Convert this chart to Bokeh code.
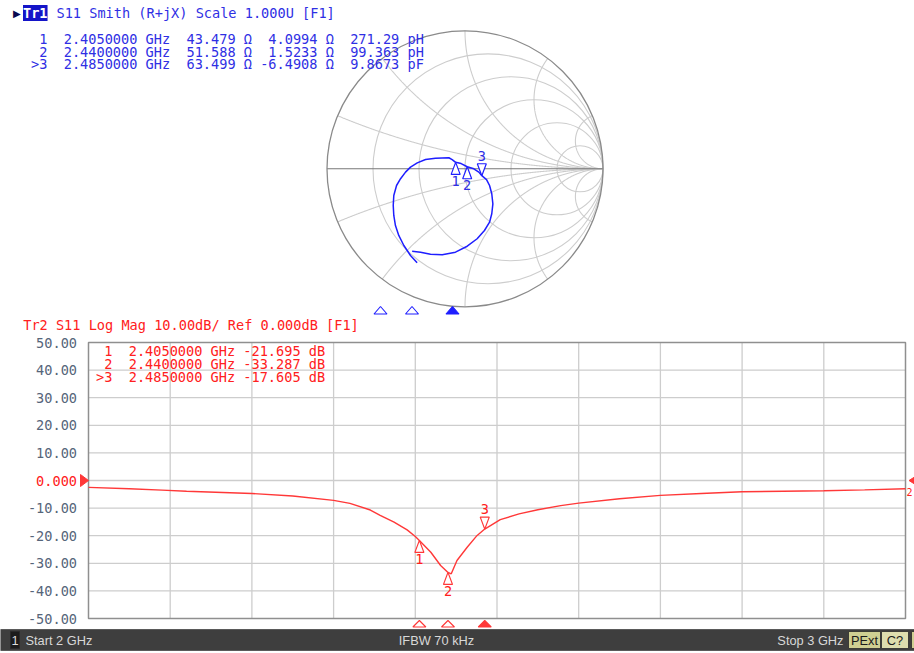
import numpy as np
from bokeh.plotting import figure
from bokeh.models import Range1d, Label
from bokeh.layouts import column
from bokeh.embed import file_html
from bokeh.resources import INLINE
from bokeh.core.properties import value

# ---------------- data ----------------
start_ghz = 2.0
stop_ghz = 3.0
z0_ohm = 50.0

marker_tags = [" 1", " 2", ">3"]
marker_names = ["1", "2", "3"]
marker_freq_ghz = [2.405, 2.440, 2.485]
marker_r_ohm = [43.479, 51.588, 63.499]
marker_x_ohm = [4.0994, 1.5233, -6.4908]
marker_lc = ["271.29 pH", "99.363 pH", "9.8673 pF"]
marker_db = [-21.695, -33.287, -17.605]
marker_above = [False, False, True]
active_marker = 2

logmag_freq_ghz = [2.000, 2.050, 2.090, 2.120, 2.200, 2.250, 2.300, 2.320, 2.345,
                   2.357, 2.374, 2.390, 2.400, 2.405, 2.419, 2.431, 2.440, 2.444,
                   2.451, 2.4635, 2.4757, 2.485, 2.504, 2.527, 2.550, 2.578, 2.600,
                   2.650, 2.700, 2.750, 2.800, 2.850, 2.900, 2.950, 3.000]
logmag_db = [-2.5, -3.0, -3.5, -3.9, -4.7, -5.6, -7.2, -8.3, -10.7,
             -12.6, -15.1, -17.9, -20.3, -21.7, -26.0, -30.8, -33.3, -33.8,
             -29.0, -24.2, -19.9, -17.6, -14.2, -12.1, -10.6, -9.1, -8.2,
             -6.6, -5.4, -4.7, -4.1, -3.9, -3.7, -3.4, -3.0]

smith_re = [-0.347, -0.395, -0.443, -0.480, -0.504, -0.516, -0.520, -0.516, -0.496,
            -0.467, -0.431, -0.395, -0.346, -0.286, -0.214, -0.117, -0.093, -0.068,
            -0.028, 0.016, 0.064, 0.100, 0.122, 0.156, 0.178, 0.194, 0.202, 0.194,
            0.178, 0.141, 0.088, 0.016, -0.069, -0.165, -0.250, -0.322, -0.383]
smith_im = [-0.681, -0.628, -0.556, -0.483, -0.411, -0.338, -0.266, -0.193, -0.121,
            -0.072, -0.024, 0.012, 0.043, 0.067, 0.077, 0.080, 0.067, 0.047,
            0.038, 0.015, 0.000, -0.024, -0.050, -0.078, -0.121, -0.181, -0.254, -0.326,
            -0.387, -0.447, -0.507, -0.561, -0.604, -0.623, -0.619, -0.604, -0.597]

db_ticks = [50, 40, 30, 20, 10, 0, -10, -20, -30, -40, -50]
db_tick_labels = ["50.00", "40.00", "30.00", "20.00", "10.00", "0.000",
                  "-10.00", "-20.00", "-30.00", "-40.00", "-50.00"]
ref_level_db = 0
freq_grid_ghz = [2.0, 2.1, 2.2, 2.3, 2.4, 2.5, 2.6, 2.7, 2.8, 2.9, 3.0]
smith_r_values = [0.2, 0.5, 1.0, 2.0, 5.0]
smith_x_values = [0.2, 0.5, 1.0, 2.0, 5.0]

# ---------------- style / layout ----------------
FONT_MONO = "DejaVu Sans Mono"
FONT_SYM = "DejaVu Sans"
FONT_BAR = "Liberation Sans"
MONO = "13.6px"
BLUE_TXT = "#2f2fe4"
BLUE_TRACE = "#1e1eff"
RED_TXT = "#ff2020"
RED_TRACE = "#ff3838"
GRID = "#cdcdcd"
AXIS_TXT = "#56657a"
NB = "\u00A0"

W = 914
H1, H2, H3 = 317, 311, 25
TOP1, TOP2, TOP3 = 0, 317, 628          # page rows where each figure begins


def nb(s):
    return s.replace(" ", NB)


def add_label(fig, h, top, text, xr, yr, color, size=MONO, font=FONT_MONO,
              align="left", **kw):
    fig.add_layout(Label(x=xr, y=h - (yr - top),
                         x_units="screen", y_units="screen", text=nb(text),
                         text_color=color, text_font=font, text_font_size=size,
                         text_align=align, text_baseline="middle", **kw))


def base_fig(h, xr, yr):
    f = figure(width=W, height=h, output_backend="svg", toolbar_location=None,
               x_range=xr, y_range=yr, x_axis_location=None, y_axis_location=None,
               min_border=0, outline_line_color=None,
               background_fill_color="white", border_fill_color="white")
    f.grid.visible = False
    return f


# ================= top: Smith chart =================
UNIT = 138.0
CX, CY = 464.5, 168.3
p1 = base_fig(H1, Range1d(-CX / UNIT, (W - CX) / UNIT),
              Range1d(-(H1 - CY) / UNIT, CY / UNIT))
TOP_F0 = 1784.5 / 900
p1.extra_x_ranges = {"freq": Range1d(TOP_F0, TOP_F0 + W / 900)}

p1.circle(x=[r / (1 + r) for r in smith_r_values], y=[0] * len(smith_r_values),
          radius=[1 / (1 + r) for r in smith_r_values],
          fill_color=None, line_color=GRID, line_width=1.1)
t = np.linspace(0, np.pi / 2 * 0.9995, 700)
arc_xs, arc_ys = [], []
for xv in smith_x_values:
    for s in (1, -1):
        z = np.tan(t) + 1j * s * xv
        g = (z - 1) / (z + 1)
        arc_xs.append(g.real.tolist())
        arc_ys.append(g.imag.tolist())
p1.multi_line(arc_xs, arc_ys, line_color=GRID, line_width=1.1)
p1.line(x=[-1, 1], y=[0, 0], line_color="#777777", line_width=1.1)
p1.circle(x=[0], y=[0], radius=[1], fill_color=None, line_color="#8a8a8a",
          line_width=1.3)

p1.line(smith_re, smith_im, line_color=BLUE_TRACE, line_width=1.5)

zn = (np.array(marker_r_ohm) + 1j * np.array(marker_x_ohm)) / z0_ohm
gm = (zn - 1) / (zn + 1)
tri_xs, tri_ys, lab_x, lab_y = [], [], [], []
hw, th = 4.5 / UNIT, 12 / UNIT
for g, above in zip(gm, marker_above):
    gx, gy = g.real, g.imag
    by = gy + th if above else gy - th
    tri_xs.append([gx, gx - hw, gx + hw])
    tri_ys.append([gy, by, by])
    lab_x.append(gx)
    lab_y.append(gy + 20 / UNIT if above else gy - 18.5 / UNIT)
p1.patches(tri_xs, tri_ys, fill_color="white", line_color=BLUE_TRACE, line_width=1.2)
p1.text(x=lab_x, y=lab_y, text=marker_names, text_align="center",
        text_baseline="middle", text_color=BLUE_TXT, text_font=value(FONT_MONO),
        text_font_size=MONO)


def ytop(ref_y):
    return (CY - ref_y) / UNIT


fhw = 6.5 / 900
for i, f in enumerate(marker_freq_ghz):
    filled = i == active_marker
    p1.patch([f, f - fhw, f + fhw], [ytop(306), ytop(313.5), ytop(313.5)],
             x_range_name="freq", fill_color=BLUE_TRACE if filled else "white",
             line_color=BLUE_TRACE, line_width=1.1)

add_label(p1, H1, TOP1, "\u25B6", 12.5, 12.5, "#0a0a50", size="10px", font=FONT_SYM)
add_label(p1, H1, TOP1, "Tr1", 22.5, 12.5, "white", background_fill_color="#1414c8",
          text_font_style="bold")
add_label(p1, H1, TOP1, "S11 Smith (R+jX) Scale 1.000U [F1]", 56, 12.5, BLUE_TXT)
for k in range(3):
    line = (f"{marker_tags[k]}  {marker_freq_ghz[k]:.7f} GHz  "
            f"{marker_r_ohm[k]:.3f} \u03A9 {marker_x_ohm[k]:7.4f} \u03A9  {marker_lc[k]}")
    add_label(p1, H1, TOP1, line, 30.5, 38.5 + 12.6 * k, BLUE_TXT)

# ================= middle: Log Mag =================
PL, PR = 88.0, 905.0
PT, PB = 342.0 - TOP2, 618.0 - TOP2
PPX = (PR - PL) / (stop_ghz - start_ghz)
DB_TOP, DB_BOT = db_ticks[0], db_ticks[-1]
PPD = (PB - PT) / (DB_TOP - DB_BOT)
p2 = base_fig(H2, Range1d(start_ghz - PL / PPX, start_ghz + (W - PL) / PPX),
              Range1d(DB_BOT - (H2 - PB) / PPD, DB_TOP + PT / PPD))


def fy(ref_y):
    return DB_TOP - ((ref_y - TOP2) - PT) / PPD


def fx(ref_x):
    return start_ghz + (ref_x - PL) / PPX


inner_f = freq_grid_ghz[1:-1]
inner_d = db_ticks[1:-1]
p2.segment(x0=inner_f, y0=[DB_BOT] * len(inner_f), x1=inner_f, y1=[DB_TOP] * len(inner_f),
           line_color=GRID, line_width=1.3)
p2.segment(x0=[start_ghz] * len(inner_d), y0=inner_d, x1=[stop_ghz] * len(inner_d),
           y1=inner_d, line_color=GRID, line_width=1.3)
p2.quad(left=[start_ghz], right=[stop_ghz], bottom=[DB_BOT], top=[DB_TOP],
        fill_color=None, line_color="#8f8f8f", line_width=1.5)

lab_colors = [RED_TXT if d == ref_level_db else AXIS_TXT for d in db_ticks]
p2.text(x=[start_ghz] * len(db_ticks), y=db_ticks, text=db_tick_labels,
        x_offset=-11.5, text_align="right", text_baseline="middle",
        text_color=lab_colors, text_font=value(FONT_MONO), text_font_size=MONO)

p2.line(logmag_freq_ghz, logmag_db, line_color=RED_TRACE, line_width=1.4)

tri_xs, tri_ys, lab_x, lab_y = [], [], [], []
hw2, th2 = 4.5 / PPX, 12 / PPD
for f, d, above in zip(marker_freq_ghz, marker_db, marker_above):
    by = d + th2 if above else d - th2
    tri_xs.append([f, f - hw2, f + hw2])
    tri_ys.append([d, by, by])
    lab_x.append(f)
    lab_y.append(d + 20 / PPD if above else d - 18.5 / PPD)
p2.patches(tri_xs, tri_ys, fill_color="white", line_color=RED_TRACE, line_width=1.2)
p2.text(x=lab_x, y=lab_y, text=marker_names, text_align="center",
        text_baseline="middle", text_color=RED_TXT, text_font=value(FONT_MONO),
        text_font_size=MONO)

# marker triangles under the grid
fhw2 = 6.5 / PPX
for i, f in enumerate(marker_freq_ghz):
    filled = i == active_marker
    p2.patch([f, f - fhw2, f + fhw2], [fy(620), fy(626.5), fy(626.5)],
             fill_color=RED_TRACE if filled else "white", line_color=RED_TRACE,
             line_width=1.1)

# reference level arrows
ah = 6 / PPD
p2.patch([start_ghz, fx(80), fx(80)], [ref_level_db, ref_level_db + ah, ref_level_db - ah],
         fill_color=RED_TRACE, line_color=RED_TRACE)
p2.patch([fx(908.5), fx(918), fx(918)], [ref_level_db, ref_level_db + ah, ref_level_db - ah],
         fill_color=RED_TRACE, line_color=RED_TRACE)
p2.text(x=[fx(906)], y=[fy(491)], text=["2"], text_align="left", text_baseline="middle",
        text_color=RED_TXT, text_font=value(FONT_MONO), text_font_size="10px")

add_label(p2, H2, TOP2, "Tr2 S11 Log Mag 10.00dB/ Ref 0.000dB [F1]", 22.7, 324, RED_TXT)
for k in range(3):
    line = f"{marker_tags[k]}  {marker_freq_ghz[k]:.7f} GHz {marker_db[k]:.3f} dB"
    add_label(p2, H2, TOP2, line, 95.5, 350 + 13.3 * k, RED_TXT)

# ================= bottom: status bar =================
p3 = base_fig(H3, Range1d(0, W), Range1d(0, H3))


def y3(ref_y):
    return H3 - (ref_y - TOP3)


p3.quad(left=[0], right=[W], top=[y3(629)], bottom=[y3(650)],
        fill_color="#3e3e3e", line_color="#5a5a5a", line_width=1)
box_l = [10, 848, 881, 911]
box_r = [19, 880, 908, 920]
box_c = ["#1c1c1c", "#cfcf92", "#dedeae", "#cfcf92"]
p3.quad(left=box_l, right=box_r, top=[y3(631)] * 4, bottom=[y3(648)] * 4,
        fill_color=box_c, line_color="#2a2a2a", line_width=0.8)
BAR_SIZE = "12.8px"
add_label(p3, H3, TOP3, "1", 14.5, 640, "#dcdcdc", size=BAR_SIZE, font=FONT_BAR, align="center")
add_label(p3, H3, TOP3, "Start 2 GHz", 25, 640, "#d8d8d8", size=BAR_SIZE, font=FONT_BAR)
add_label(p3, H3, TOP3, "IFBW 70 kHz", 436, 640, "#d8d8d8", size=BAR_SIZE, font=FONT_BAR, align="center")
add_label(p3, H3, TOP3, "Stop 3 GHz", 843, 640, "#d8d8d8", size=BAR_SIZE, font=FONT_BAR, align="right")
add_label(p3, H3, TOP3, "PExt", 864, 640, "#1a1a1a", size=BAR_SIZE, font=FONT_BAR, align="center")
add_label(p3, H3, TOP3, "C?", 894.5, 640, "#1a1a1a", size=BAR_SIZE, font=FONT_BAR, align="center")

layout = column(p1, p2, p3, spacing=0)
html = file_html(layout, INLINE, title="S11 Smith / Log Mag")
open("out.html", "w", encoding="utf-8").write(html)
